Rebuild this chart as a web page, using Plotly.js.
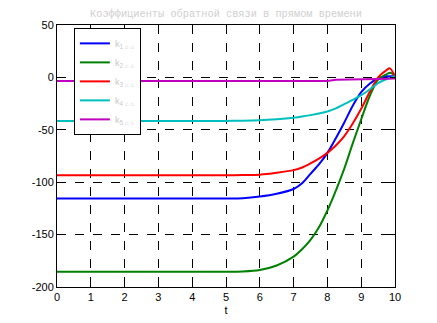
<!DOCTYPE html>
<html><head><meta charset="utf-8">
<script src="https://cdn.plot.ly/plotly-3.0.1.min.js"></script>
<style>html,body{margin:0;padding:0;background:#fff;}#chart{width:437px;height:323px;}</style>
</head><body><div id="chart"></div>
<script>
const t =        [0, 1, 2, 3, 4, 5, 5.5, 6, 6.5, 7, 7.25, 7.5, 7.75, 8, 8.25, 8.5, 8.75, 9, 9.25, 9.5, 9.75, 9.85, 10];
const k1 = [-115.5,-115.5,-115.5,-115.5,-115.5,-115.5,-115.3,-113.7,-111,-106.5,-101,-92,-83,-72,-58,-43,-27,-14,-6,-1,1,1,1];
const k2 = [-185.5,-185.5,-185.5,-185.5,-185.5,-185.5,-185.2,-183.8,-179.5,-171,-164,-155,-143,-127,-108,-87,-63,-40,-18,-2,3,4.5,2];
const k3 = [-93.3,-93.3,-93.3,-93.3,-93.3,-93.3,-93.2,-92.8,-91,-88.5,-86,-82,-77.5,-72,-65,-56,-44,-30,-14,0,7,8.6,1];
const k4 = [-41.5,-41.5,-41.5,-41.5,-41.5,-41.5,-41.4,-41,-40,-38.5,-37.4,-36,-34.4,-32.5,-29.5,-25.5,-21.5,-17,-11.5,-5.5,-1.5,-0.5,1];
const k5 = [-3.4,-3.4,-3.4,-3.4,-3.4,-3.4,-3.4,-3.4,-3.4,-3.4,-3.4,-3.4,-3.4,-3.4,-2.2,-2.2,-2.1,-2,-1.8,-1.5,-1.2,-1.1,-1];
const names = ["k<sub>1 ⌂ ⌂</sub>","k<sub>2 ⌂ ⌂</sub>","k<sub>3 ⌂ ⌂</sub>","k<sub>4 ⌂ ⌂</sub>","k<sub>5 ⌂ ⌂</sub>"];
const colors = ["#0000ff","#008000","#ff0000","#00bfbf","#bf00bf"];
const series = [k1,k2,k3,k4,k5];
const titleText = "Коэффициенты обратной связи в прямом времени";
const xTicks = [0,1,2,3,4,5,6,7,8,9,10];
const yTicks = [50,0,-50,-100,-150,-200];

const traces = series.map((s,i)=>({x:t,y:s,type:'scatter',mode:'lines',name:names[i],
  line:{color:colors[i],width:2,shape:(i===4?'linear':'spline'),smoothing:0.8}}));

const axBase = {showline:true,linecolor:'#000',linewidth:1,mirror:'ticks',ticks:'inside',ticklen:5,
  tickcolor:'#000',showgrid:true,gridcolor:'#000',gridwidth:1,griddash:'dash',zeroline:false,
  tickfont:{family:'Liberation Sans, Arial, sans-serif',size:11,color:'#000'}};

const layout = {
  width:437,height:323,paper_bgcolor:'#fff',plot_bgcolor:'#fff',
  margin:{l:57,r:42,t:25,b:36},
  title:{text:titleText,font:{family:'Liberation Mono, DejaVu Sans Mono, monospace',size:10.3,color:'#cfcfcf'},
    x:0.5,xref:'paper',xanchor:'center',y:0.957,yref:'container',yanchor:'middle'},
  xaxis:Object.assign({},axBase,{range:[0,10],tickvals:xTicks,ticktext:xTicks.map(String),
    title:{text:'t',font:{family:'Liberation Sans, Arial, sans-serif',size:11,color:'#000'},standoff:4}}),
  yaxis:Object.assign({},axBase,{range:[-200,50],tickvals:yTicks,ticktext:yTicks.map(String)}),
  showlegend:true,
  legend:{x:0.05,y:0.989,xanchor:'left',yanchor:'top',bgcolor:'#fff',bordercolor:'#000',borderwidth:1,
    font:{family:'Liberation Sans, Arial, sans-serif',size:9,color:'#c8c8c8'},itemwidth:30,tracegroupgap:0}
};
Plotly.newPlot('chart',traces,layout,{staticPlot:true,displayModeBar:false});
</script></body></html>
